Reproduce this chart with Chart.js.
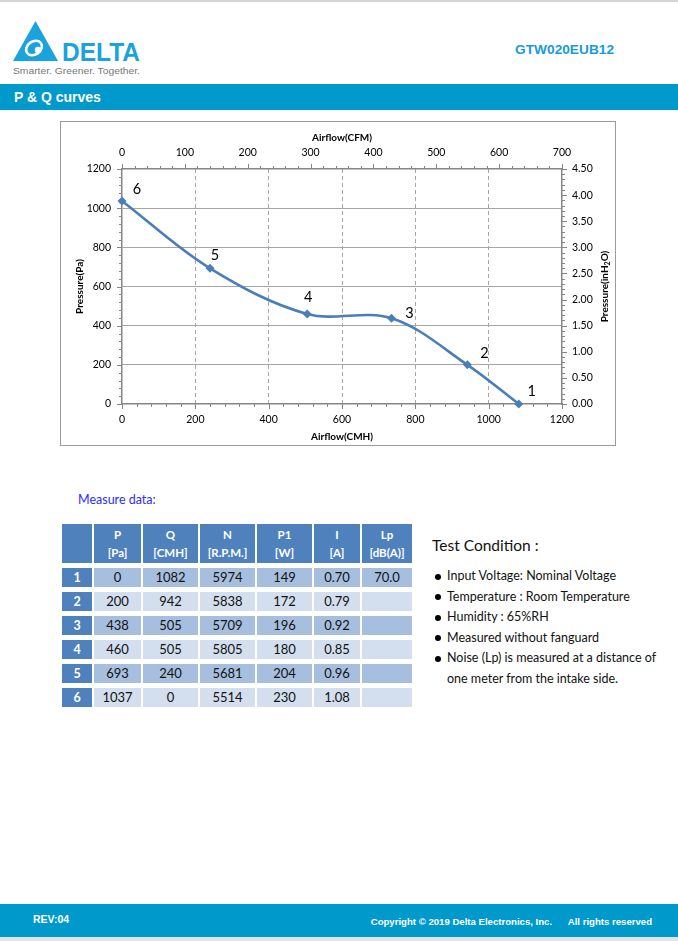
<!DOCTYPE html>
<html>
<head>
<meta charset="utf-8">
<script src="https://cdn.jsdelivr.net/npm/chart.js@4.4.1/dist/chart.umd.min.js"></script>
<style>
html,body{margin:0;padding:0;background:#fff;}
#page{position:relative;width:678px;height:941px;overflow:hidden;background:#fff;font-family:'Liberation Sans',Arial,sans-serif;}
.abs{position:absolute;}
#topline{left:0;top:0;width:678px;height:2px;background:#d4d4d4;}
#model{right:64px;top:42px;font-size:13.7px;font-weight:bold;color:#1a9ad9;}
#banner{left:0;top:84px;width:678px;height:26px;background:#0099cc;}
#banner span{position:absolute;left:14px;top:5px;font-size:14px;font-weight:bold;color:#fff;}
#frame{left:60px;top:121px;width:554px;height:323px;border:1px solid #9a9a9a;}
#frame canvas{display:block;}
#measure{left:78px;top:492px;font-family:Lato,sans-serif;font-size:12.5px;color:#2b2bff;}
#tbl{left:60px;top:519px;border-collapse:separate;border-spacing:2px 5px;table-layout:fixed;font-family:Lato,sans-serif;}
#tbl td{padding:0;text-align:center;font-size:13px;line-height:19px;height:19px;color:#111;}
#tbl td.hd{background:#4f81bd;color:#fff;font-weight:bold;font-size:11.5px;line-height:18px;height:39px;}
#tbl td.ix{background:#4f81bd;color:#fff;font-weight:bold;font-size:12.5px;}
#tbl tr.dk td.dv{background:#a7bfde;}
#tbl tr.lt td.dv{background:#d3dfee;}
#cond{left:432px;top:535px;font-family:Lato,sans-serif;color:#111;}
#cond .ttl{font-size:15.5px;line-height:20px;margin-bottom:11px;}
#cond .li{position:relative;padding-left:15px;font-size:12.5px;line-height:20.5px;}
#cond .li .b{position:absolute;left:2.5px;top:7.5px;width:6px;height:6px;border-radius:50%;background:#000;}
#footer{left:0;top:904px;width:678px;height:33px;background:#0099cc;color:#fff;font-weight:bold;font-size:9.6px;}
#footer .rev{position:absolute;left:33px;top:9px;font-size:10.5px;}
#footer .cp{position:absolute;right:26px;top:12px;white-space:pre;}
#bottomline{left:0;top:937px;width:678px;height:4px;background:#e4e4e4;}
</style>
</head>
<body>
<div id="page">
  <div id="topline" class="abs"></div>
  <svg class="abs" style="left:0;top:0" width="160" height="80">
    <polygon points="13,61 35.5,21 58,61" fill="#1aa3dc"/>
    <ellipse cx="34" cy="48" rx="8.5" ry="6.5" fill="none" stroke="#fff" stroke-width="2.6" transform="rotate(-35 34 48)"/>
    <circle cx="38" cy="50" r="3.2" fill="#fff"/>
    <text x="62" y="61" font-family="Liberation Sans, Arial, sans-serif" font-weight="bold" font-size="25" fill="#1aa3dc" textLength="78" lengthAdjust="spacingAndGlyphs">DELTA</text>
    <text x="13" y="74" font-family="Liberation Sans, Arial, sans-serif" font-size="8.5" fill="#777" textLength="127" lengthAdjust="spacingAndGlyphs">Smarter.  Greener.  Together.</text>
  </svg>
  <div id="model" class="abs">GTW020EUB12</div>
  <div id="banner" class="abs"><span>P &amp; Q curves</span></div>
  <div id="frame" class="abs"><canvas id="c" width="554" height="323"></canvas></div>
  <div id="measure" class="abs">Measure data:</div>
  <table id="tbl" class="abs"></table>
  <div id="cond" class="abs"></div>
  <div id="footer" class="abs"><span class="rev">REV:04</span><span class="cp">Copyright © 2019 Delta Electronics, Inc.      All rights reserved</span></div>
  <div id="bottomline" class="abs"></div>
</div>
<script>
// ---------- data ----------
const pointIds = ['1', '2', '3', '4', '5', '6'];
const curveAirflowCMH = [1082, 942, 735, 505, 240, 0];
const curvePressurePa = [0, 200, 438, 460, 693, 1037];

const ticksCMH = [0, 200, 400, 600, 800, 1000, 1200];
const ticksCFM = [0, 100, 200, 300, 400, 500, 600, 700];
const ticksPa = [0, 200, 400, 600, 800, 1000, 1200];
const ticksInH2O = [0, 0.5, 1, 1.5, 2, 2.5, 3, 3.5, 4, 4.5];

const headerNames = ['P', 'Q', 'N', 'P1', 'I', 'Lp'];
const headerUnits = ['[Pa]', '[CMH]', '[R.P.M.]', '[W]', '[A]', '[dB(A)]'];
const colP = ['0', '200', '438', '460', '693', '1037'];
const colQ = ['1082', '942', '505', '505', '240', '0'];
const colN = ['5974', '5838', '5709', '5805', '5681', '5514'];
const colP1 = ['149', '172', '196', '180', '204', '230'];
const colI = ['0.70', '0.79', '0.92', '0.85', '0.96', '1.08'];
const colLp = ['70.0', '', '', '', '', ''];

const conditionTitle = 'Test Condition :';
const conditions = [
  'Input Voltage: Nominal Voltage',
  'Temperature : Room Temperature',
  'Humidity : 65%RH',
  'Measured without fanguard',
  'Noise (Lp) is measured at a distance of one meter from the intake side.'
];

// ---------- style (label placement) ----------
const labelOffsets = [[13, -13], [17, -12], [18, -5], [1, -17], [5, -13], [15, -12]];
const colWidths = [30, 47, 55, 55, 55, 46, 50];

// ---------- table ----------
const tbl = document.getElementById('tbl');
let html = '<colgroup>' + colWidths.map(w => '<col style="width:' + w + 'px">').join('') + '</colgroup>';
html += '<tr><td class="hd"></td>' + headerNames.map((h, i) => '<td class="hd">' + h + '<br>' + headerUnits[i] + '</td>').join('') + '</tr>';
const cols = [colP, colQ, colN, colP1, colI, colLp];
pointIds.forEach((id, r) => {
  html += '<tr class="' + (r % 2 === 0 ? 'dk' : 'lt') + '"><td class="ix">' + id + '</td>' +
    cols.map(c => '<td class="dv">' + c[r] + '</td>').join('') + '</tr>';
});
tbl.innerHTML = html;

// ---------- test condition ----------
const cond = document.getElementById('cond');
cond.innerHTML = '<div class="ttl">' + conditionTitle + '</div>' +
  '<div style="width:225px">' + conditions.map(t => '<div class="li"><span class="b"></span>' + t + '</div>').join('') + '</div>';

// ---------- chart ----------
const AXIS_COLOR = '#868686';
const GRID_COLOR = '#a6a6a6';
const FONT = 'Lato, sans-serif';

const minorTicks = {
  id: 'minorTicks',
  beforeDatasetsDraw(chart) {
    const ctx = chart.ctx;
    const spec = { x: 40, x2: 20, y: 40, y2: 0.1 };
    ctx.save();
    ctx.strokeStyle = AXIS_COLOR;
    ctx.lineWidth = 1;
    Object.keys(spec).forEach(id => {
      const s = chart.scales[id];
      const step = spec[id];
      const n = Math.round((s.max - s.min) / step);
      for (let k = 0; k <= n; k++) {
        const v = s.min + k * step;
        const p = Math.round(s.getPixelForValue(v)) + 0.5;
        const major = s.ticks.some(t => Math.abs(t.value - v) < 1e-6);
        const len = major ? 5 : 3;
        ctx.beginPath();
        if (id === 'x') { ctx.moveTo(p, s.top); ctx.lineTo(p, s.top + len); }
        else if (id === 'x2') { ctx.moveTo(p, s.bottom); ctx.lineTo(p, s.bottom - len); }
        else if (id === 'y') { ctx.moveTo(s.right, p); ctx.lineTo(s.right - len, p); }
        else { ctx.moveTo(s.left, p); ctx.lineTo(s.left + len, p); }
        ctx.stroke();
      }
    });
    ctx.restore();
  },
  afterDraw(chart) {
    const ctx = chart.ctx;
    // point labels
    const meta = chart.getDatasetMeta(0);
    ctx.save();
    ctx.fillStyle = '#000';
    ctx.font = '14.5px ' + FONT;
    ctx.textAlign = 'center';
    ctx.textBaseline = 'middle';
    meta.data.forEach((pt, i) => {
      ctx.fillText(pointIds[i], pt.x + labelOffsets[i][0], pt.y + labelOffsets[i][1]);
    });
    // right axis title (reads bottom-to-top, with subscript)
    const s = chart.scales.y2;
    const cy = (chart.chartArea.top + chart.chartArea.bottom) / 2;
    const cx = s.right - 10;
    ctx.translate(cx, cy);
    ctx.rotate(-Math.PI / 2);
    ctx.textBaseline = 'middle';
    ctx.textAlign = 'left';
    ctx.fillStyle = '#000';
    const big = 'bold 10px ' + FONT, small = 'bold 7px ' + FONT;
    const parts = [['Pressure(inH', big, 0], ['2', small, 3], ['O)', big, 0]];
    let w = 0;
    parts.forEach(p => { ctx.font = p[1]; w += ctx.measureText(p[0]).width; });
    let x = -w / 2;
    parts.forEach(p => { ctx.font = p[1]; ctx.fillText(p[0], x, p[2]); x += ctx.measureText(p[0]).width; });
    ctx.restore();
  }
};

const tickFont = { family: FONT, size: 10.5 };
const titleFont = { family: FONT, size: 10, weight: 'bold' };
const plain = v => String(v);
const edgeTransparent = (arr) => (c) => {
  const v = c.tick ? c.tick.value : null;
  return (v === arr[0] || v === arr[arr.length - 1]) ? 'rgba(0,0,0,0)' : GRID_COLOR;
};

new Chart(document.getElementById('c'), {
  type: 'scatter',
  data: {
    datasets: [{
      data: curveAirflowCMH.map((x, i) => ({ x: x, y: curvePressurePa[i] })),
      showLine: true,
      borderColor: '#4a7ebb',
      backgroundColor: '#4a7ebb',
      borderWidth: 2.6,
      pointStyle: 'rectRot',
      pointRadius: 4.5,
      pointHoverRadius: 4.5,
      pointBorderWidth: 0,
      tension: 0.35,
      clip: false,
      xAxisID: 'x',
      yAxisID: 'y'
    }]
  },
  options: {
    responsive: false,
    animation: false,
    devicePixelRatio: 1,
    events: [],
    layout: { padding: 0 },
    plugins: { legend: { display: false }, tooltip: { enabled: false } },
    scales: {
      x: {
        type: 'linear', position: 'bottom', min: ticksCMH[0], max: ticksCMH[ticksCMH.length - 1],
        afterBuildTicks: s => { s.ticks = ticksCMH.map(v => ({ value: v })); },
        afterFit: s => { s.height = 41; },
        grid: { color: edgeTransparent(ticksCMH), lineWidth: 1, drawTicks: false },
        border: { display: true, color: AXIS_COLOR, width: 1.5, dash: [4, 3] },
        ticks: { font: tickFont, color: '#000', padding: 9, autoSkip: false, maxRotation: 0, callback: plain },
        title: { display: true, text: 'Airflow(CMH)', font: titleFont, color: '#000', padding: { top: 0, bottom: 2 } }
      },
      x2: {
        type: 'linear', position: 'top', min: ticksCFM[0], max: ticksCFM[ticksCFM.length - 1],
        afterBuildTicks: s => { s.ticks = ticksCFM.map(v => ({ value: v })); },
        afterFit: s => { s.height = 47; },
        grid: { drawOnChartArea: false, drawTicks: false },
        border: { display: true, color: AXIS_COLOR, width: 1.5 },
        ticks: { font: tickFont, color: '#000', padding: 10, autoSkip: false, maxRotation: 0, callback: plain },
        title: { display: true, text: 'Airflow(CFM)', font: titleFont, color: '#000', padding: { top: 10, bottom: 0 } }
      },
      y: {
        type: 'linear', position: 'left', min: ticksPa[0], max: ticksPa[ticksPa.length - 1],
        afterBuildTicks: s => { s.ticks = ticksPa.map(v => ({ value: v })); },
        afterFit: s => { s.width = 61; },
        grid: { color: edgeTransparent(ticksPa), lineWidth: 1, drawTicks: false },
        border: { display: true, color: AXIS_COLOR, width: 1.5 },
        ticks: { font: tickFont, color: '#000', padding: 11, autoSkip: false, callback: plain },
        title: { display: true, text: 'Pressure(Pa)', font: titleFont, color: '#000', padding: { top: 13, bottom: 0 } }
      },
      y2: {
        type: 'linear', position: 'right', min: ticksInH2O[0], max: ticksInH2O[ticksInH2O.length - 1],
        afterBuildTicks: s => { s.ticks = ticksInH2O.map(v => ({ value: v })); },
        afterFit: s => { s.width = 53; },
        grid: { drawOnChartArea: false, drawTicks: false },
        border: { display: true, color: AXIS_COLOR, width: 1.5 },
        ticks: { font: tickFont, color: '#000', padding: 10, autoSkip: false, callback: v => Number(v).toFixed(2) },
        title: { display: false }
      }
    }
  },
  plugins: [minorTicks]
});
</script>
</body>
</html>
